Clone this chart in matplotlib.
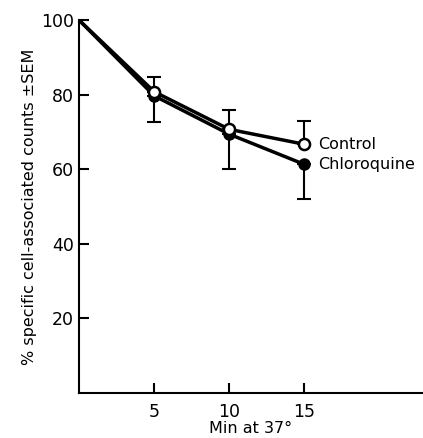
import matplotlib
matplotlib.use("Agg")
import matplotlib.pyplot as plt

minutes = [0, 5, 10, 15]
control = [100, 80.8, 70.7, 66.7]
chloroquine = [100, 79.7, 69.4, 61.3]
# bars drawn upward from control, downward from chloroquine
control_up = [0, 4.0, 5.3, 6.3]
chloro_down = [0, 7.0, 9.4, 9.3]

fig = plt.figure(figsize=(4.23, 4.38), dpi=100)
ax = fig.add_axes([0.187, 0.103, 0.813, 0.851])

ax.errorbar(minutes[1:], control[1:], yerr=[[0, 0, 0], control_up[1:]],
            fmt="none", ecolor="black", elinewidth=1.5, capsize=5, capthick=1.5)
ax.errorbar(minutes[1:], chloroquine[1:], yerr=[chloro_down[1:], [0, 0, 0]],
            fmt="none", ecolor="black", elinewidth=1.5, capsize=5, capthick=1.5)

ax.plot(minutes, chloroquine, color="black", lw=2.5, zorder=3)
ax.plot(minutes[1:], chloroquine[1:], "o", color="black", ms=8, zorder=4)
ax.plot(minutes, control, color="black", lw=2.5, zorder=5)
ax.plot(minutes[1:], control[1:], "o", mfc="white", mec="black", mew=1.8, ms=8, zorder=6)

ax.text(15.9, control[-1], "Control", fontsize=11.5, va="center")
ax.text(15.9, chloroquine[-1], "Chloroquine", fontsize=11.5, va="center")

ax.set_xlim(0, 22.9)
ax.set_ylim(0, 100)
ax.set_xticks([5, 10, 15])
ax.set_yticks([20, 40, 60, 80, 100])
ax.tick_params(direction="in", length=7, width=1.5, labelsize=12.5)
ax.tick_params(axis="x", pad=7)
for s in ["top", "right"]:
    ax.spines[s].set_visible(False)
for s in ["left", "bottom"]:
    ax.spines[s].set_linewidth(1.5)

ax.set_xlabel("Min at 37°", fontsize=11.5, labelpad=0)
ax.set_ylabel("% specific cell-associated counts ±SEM", fontsize=11.5, labelpad=3)

fig.savefig("out.png", dpi=100)
